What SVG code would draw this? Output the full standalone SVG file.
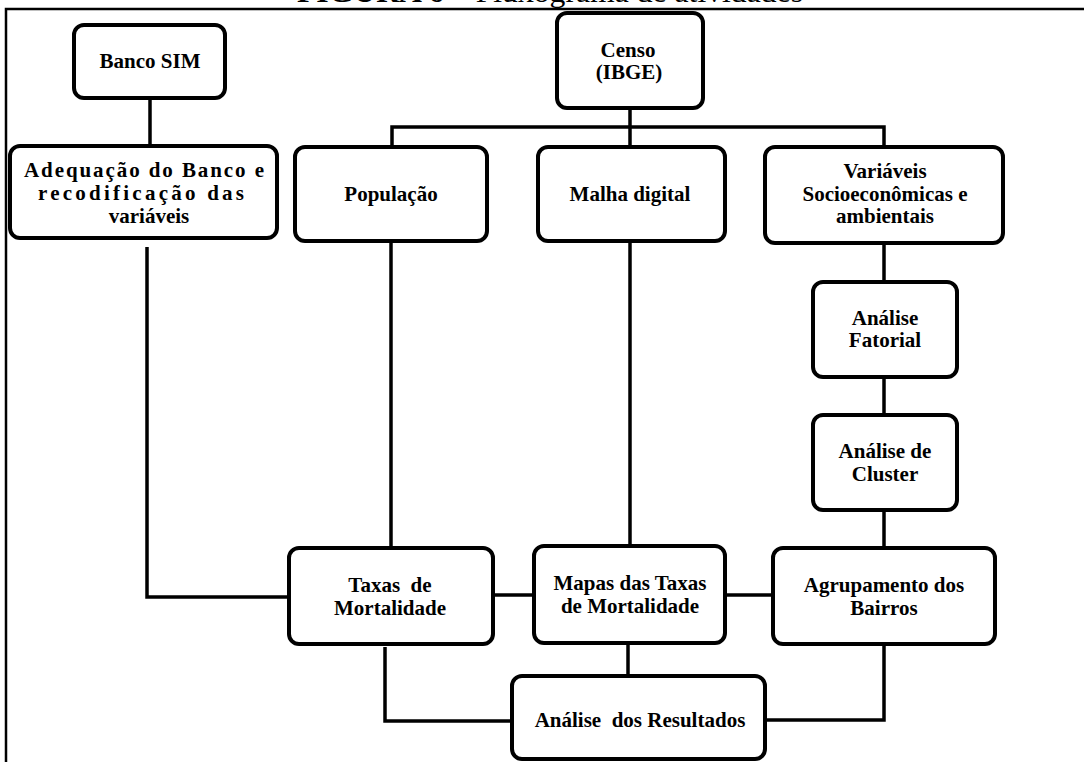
<svg xmlns="http://www.w3.org/2000/svg" width="1084" height="762" viewBox="0 0 1084 762">
<style>
.box{fill:#fff;stroke:#000;stroke-width:4}
.t{font-family:"Liberation Serif","Times New Roman",serif;font-weight:bold;font-size:21px;fill:#000;text-anchor:middle}
.c{fill:none;stroke:#000;stroke-width:3.5}
.frame{fill:none;stroke:#000;stroke-width:2.5}
</style>
<rect width="1084" height="762" fill="#fff"/>
<text x="550" y="2" font-family="'Liberation Serif','Times New Roman',serif" font-size="30" text-anchor="middle" textLength="506" lengthAdjust="spacingAndGlyphs"><tspan font-weight="bold">FIGURA 6</tspan> – Fluxograma de atividades</text>
<path class="frame" d="M6,762 V9 H1084"/>
<g id="connectors">
<path class="c" d="M150,98 V146"/>
<path class="c" d="M630,108 V127 M392,147 V127 H884 V147 M630,127 V147"/>
<path class="c" d="M391,241 V548"/>
<path class="c" d="M630,241 V546"/>
<path class="c" d="M884,243 V282"/>
<path class="c" d="M884,377 V415"/>
<path class="c" d="M884,510 V548"/>
<path class="c" d="M147,247 V597 H289"/>
<path class="c" d="M493,595 H534"/>
<path class="c" d="M725,595 H773"/>
<path class="c" d="M385,647 V721 H512"/>
<path class="c" d="M628,640 V676"/>
<path class="c" d="M884,639 V720 H767"/>
</g>
<g id="banco-sim"><rect class="box" x="74" y="25" width="151" height="73" rx="10"/><text class="t" x="150" y="68">Banco SIM</text></g>
<g id="adequacao"><rect class="box" x="10" y="146" width="267" height="92" rx="10"/><text class="t" x="144" y="177" font-size="22" textLength="240" lengthAdjust="spacing">Adequação do Banco e</text><text class="t" x="141" y="200" font-size="22" textLength="206" lengthAdjust="spacing">recodificação das</text><text class="t" x="149" y="223" font-size="22">variáveis</text></g>
<g id="censo"><rect class="box" x="557" y="13" width="146" height="95" rx="10"/><text class="t" x="628" y="57">Censo</text><text class="t" x="629" y="79">(IBGE)</text></g>
<g id="populacao"><rect class="box" x="295" y="147" width="192" height="94" rx="10"/><text class="t" x="391" y="201">População</text></g>
<g id="malha"><rect class="box" x="538" y="147" width="187" height="94" rx="10"/><text class="t" x="630" y="201">Malha digital</text></g>
<g id="variaveis"><rect class="box" x="765" y="147" width="238" height="96" rx="10"/><text class="t" x="885" y="178">Variáveis</text><text class="t" x="885" y="201">Socioeconômicas e</text><text class="t" x="885" y="223">ambientais</text></g>
<g id="fatorial"><rect class="box" x="813" y="282" width="144" height="95" rx="10"/><text class="t" x="885" y="325">Análise</text><text class="t" x="885" y="347">Fatorial</text></g>
<g id="cluster"><rect class="box" x="813" y="415" width="144" height="95" rx="10"/><text class="t" x="885" y="458">Análise de</text><text class="t" x="885" y="481">Cluster</text></g>
<g id="taxas"><rect class="box" x="289" y="548" width="204" height="96" rx="10"/><text class="t" x="390" y="592" xml:space="preserve">Taxas  de</text><text class="t" x="390" y="615">Mortalidade</text></g>
<g id="mapas"><rect class="box" x="534" y="546" width="191" height="97" rx="10"/><text class="t" x="630" y="590">Mapas das Taxas</text><text class="t" x="630" y="613">de Mortalidade</text></g>
<g id="agrupamento"><rect class="box" x="773" y="548" width="222" height="96" rx="10"/><text class="t" x="884" y="592">Agrupamento dos</text><text class="t" x="884" y="615">Bairros</text></g>
<g id="analise-resultados"><rect class="box" x="512" y="676" width="253" height="83" rx="10"/><text class="t" x="640" y="727" xml:space="preserve">Análise  dos Resultados</text></g>
</svg>
